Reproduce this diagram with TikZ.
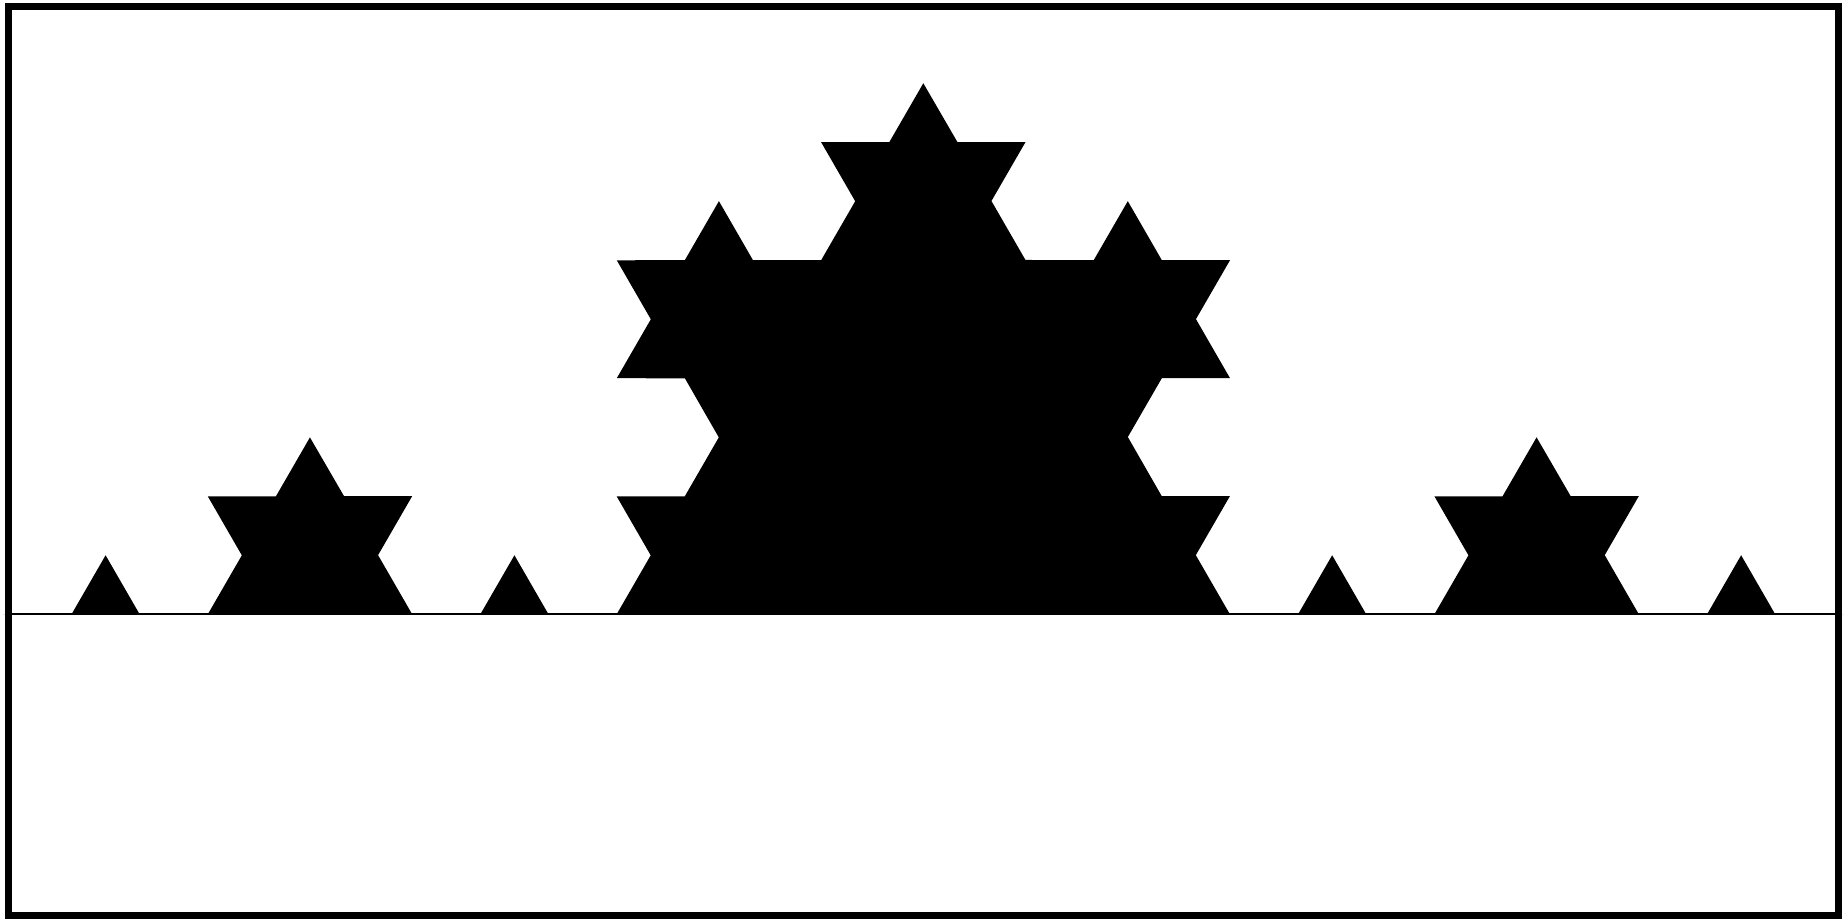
\documentclass[tikz,border=0pt]{standalone}
\usetikzlibrary{decorations.fractals}
\begin{document}
\begin{tikzpicture}[x=0.01cm,y=0.01cm,
  frame/.style={draw=black,line width=0.07cm},
  baseline line/.style={draw=black,line width=0.022cm},
  koch/.style={fill=black,decoration=Koch snowflake}]
\useasboundingbox (0,0) rectangle (1844,919);
\coordinate (kA) at (3.4,304.7);
\coordinate (kB) at (1843.4,304.7);
\fill[koch] decorate{decorate{decorate{(kA) -- (kB)}}};
\coordinate (bL) at (12,304.7);
\coordinate (bR) at (1835,304.7);
\draw[baseline line] (bL) -- (bR);
\coordinate (fLL) at (8.7,3);
\coordinate (fUR) at (1838.2,912.8);
\draw[frame] (fLL) rectangle (fUR);
\end{tikzpicture}
\end{document}
